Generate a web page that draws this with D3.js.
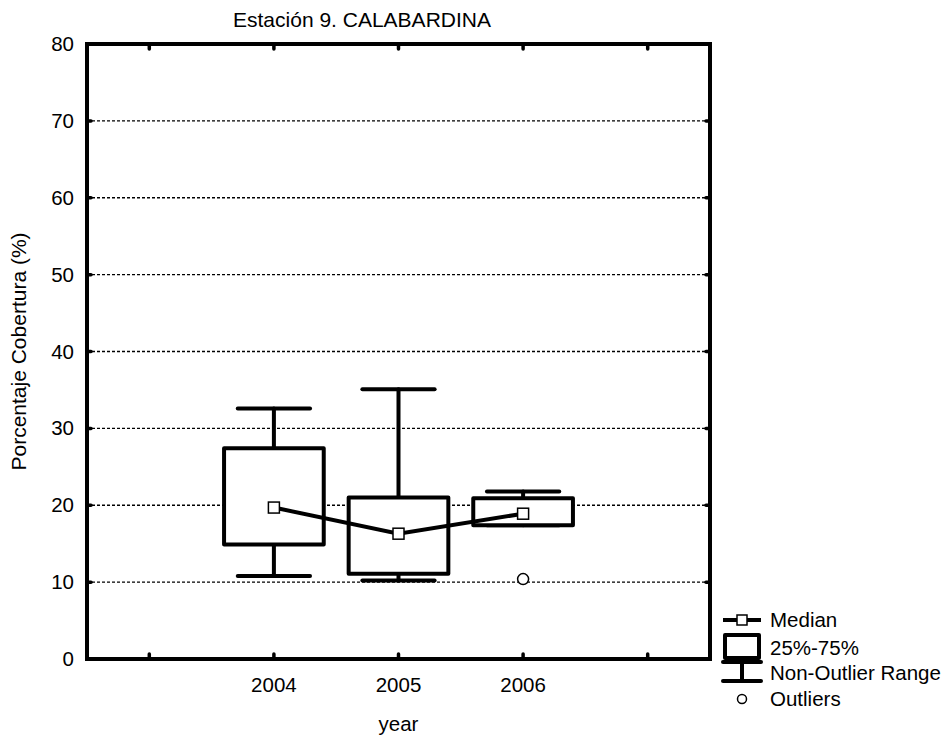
<head>
    <meta charset="utf-8">
    <style> body { margin: 0; background: #fff; } text { font-family: Arial, "Liberation Sans", sans-serif; fill: #000; } </style>
    <script src="https://d3js.org/d3.v7.min.js"></script>
</head>
<body>
    <div id="chart"></div>
    <script>
        // data
        const years = ["2004", "2005", "2006"];
        const medians = [19.7, 16.3, 18.9];
        const q1 = [14.9, 11.1, 17.4];
        const q3 = [27.4, 21.0, 20.9];
        const whiskLo = [10.8, 10.2, 17.4];
        const whiskHi = [32.6, 35.1, 21.8];
        const outlierYears = ["2006"];
        const outlierValues = [10.4];
        const yTicks = [0, 10, 20, 30, 40, 50, 60, 70, 80];
        const legendLabels = ["Median", "25%-75%", "Non-Outlier Range", "Outliers"];

        const width = 947, height = 740;
        const pLeft = 87, pRight = 710, pTop = 44, pBottom = 659;
        const fs = 20.5;

        const svg = d3.select("#chart")
            .append("svg")
            .attr("width", width)
            .attr("height", height);

        // two empty slots either side of the years
        const slots = ["a"].concat(years, ["b"]);
        const x = d3.scalePoint().domain(slots).range([pLeft, pRight]).padding(0.5);
        const y = d3.scaleLinear().domain([0, 80]).range([pBottom, pTop]);
        const step = x.step();
        const boxW = step * 0.8, capW = step * 0.58;

        // dotted gridlines
        svg.append("g")
            .selectAll("line")
            .data(yTicks.filter(d => d > 0 && d < 80))
            .join("line")
            .attr("x1", pLeft).attr("x2", pRight)
            .attr("y1", d => y(d)).attr("y2", d => y(d))
            .attr("stroke", "#000")
            .attr("stroke-width", 1.3)
            .attr("stroke-dasharray", "3,2");

        const rows = years.map((d, i) => ({
            year: d, med: medians[i], lo: q1[i], hi: q3[i], wl: whiskLo[i], wh: whiskHi[i]
        }));

        // whiskers
        const wg = svg.append("g").attr("stroke", "#000").attr("stroke-width", 4).attr("stroke-linecap", "round");
        rows.forEach(r => {
            const cx = x(r.year);
            wg.append("line").attr("x1", cx).attr("x2", cx).attr("y1", y(r.wl)).attr("y2", y(r.wh));
            wg.append("line").attr("x1", cx - capW / 2).attr("x2", cx + capW / 2).attr("y1", y(r.wh)).attr("y2", y(r.wh));
            wg.append("line").attr("x1", cx - capW / 2).attr("x2", cx + capW / 2).attr("y1", y(r.wl)).attr("y2", y(r.wl));
        });

        // boxes
        svg.append("g")
            .selectAll("rect")
            .data(rows)
            .join("rect")
            .attr("x", d => x(d.year) - boxW / 2)
            .attr("width", boxW)
            .attr("y", d => y(d.hi))
            .attr("height", d => y(d.lo) - y(d.hi))
            .attr("fill", "#fff")
            .attr("stroke", "#000")
            .attr("stroke-width", 4)
            .attr("stroke-linejoin", "round");

        // median line + markers
        svg.append("path")
            .datum(rows)
            .attr("fill", "none")
            .attr("stroke", "#000")
            .attr("stroke-width", 4)
            .attr("d", d3.line().x(d => x(d.year)).y(d => y(d.med)));

        svg.append("g")
            .selectAll("rect")
            .data(rows)
            .join("rect")
            .attr("x", d => x(d.year) - 5.5)
            .attr("y", d => y(d.med) - 5.5)
            .attr("width", 11).attr("height", 11)
            .attr("fill", "#fff")
            .attr("stroke", "#000")
            .attr("stroke-width", 1.5);

        // outliers
        svg.append("g")
            .selectAll("circle")
            .data(outlierValues)
            .join("circle")
            .attr("cx", (d, i) => x(outlierYears[i]))
            .attr("cy", d => y(d))
            .attr("r", 5.5)
            .attr("fill", "#fff")
            .attr("stroke", "#000")
            .attr("stroke-width", 1.5);

        // frame
        svg.append("rect")
            .attr("x", pLeft).attr("y", pTop)
            .attr("width", pRight - pLeft).attr("height", pBottom - pTop)
            .attr("fill", "none")
            .attr("stroke", "#000")
            .attr("stroke-width", 4);

        // inward tick marks
        const tg = svg.append("g").attr("stroke", "#000").attr("stroke-width", 3.5).attr("stroke-linecap", "round");
        yTicks.filter(d => d > 0 && d < 80).forEach(d => {
            tg.append("line").attr("x1", pLeft).attr("x2", pLeft + 4).attr("y1", y(d)).attr("y2", y(d));
            tg.append("line").attr("x1", pRight).attr("x2", pRight - 4).attr("y1", y(d)).attr("y2", y(d));
        });
        slots.forEach(d => {
            tg.append("line").attr("x1", x(d)).attr("x2", x(d)).attr("y1", pTop).attr("y2", pTop + 5);
            tg.append("line").attr("x1", x(d)).attr("x2", x(d)).attr("y1", pBottom).attr("y2", pBottom - 5);
        });

        // axis labels
        svg.append("g")
            .selectAll("text")
            .data(yTicks)
            .join("text")
            .attr("x", 74)
            .attr("y", d => y(d) + 7)
            .attr("text-anchor", "end")
            .attr("font-size", fs)
            .text(d => d);

        svg.append("g")
            .selectAll("text")
            .data(years)
            .join("text")
            .attr("x", d => x(d))
            .attr("y", 692)
            .attr("text-anchor", "middle")
            .attr("font-size", fs)
            .text(d => d);

        svg.append("text")
            .attr("x", (pLeft + pRight) / 2)
            .attr("y", 731)
            .attr("text-anchor", "middle")
            .attr("font-size", fs)
            .text("year");

        svg.append("text")
            .attr("transform", "translate(26," + ((pTop + pBottom) / 2) + ") rotate(-90)")
            .attr("text-anchor", "middle")
            .attr("font-size", 21)
            .text("Porcentaje Cobertura (%)");

        svg.append("text")
            .attr("x", 362)
            .attr("y", 27)
            .attr("text-anchor", "middle")
            .attr("font-size", 21)
            .text("Estación 9. CALABARDINA");

        // legend
        const lg = svg.append("g");
        const lx = 723, lw = 38, lc = lx + lw / 2;
        lg.append("line").attr("x1", lx).attr("x2", lx + lw).attr("y1", 620).attr("y2", 620)
            .attr("stroke", "#000").attr("stroke-width", 4);
        lg.append("rect").attr("x", lc - 5).attr("y", 615).attr("width", 10).attr("height", 10)
            .attr("fill", "#fff").attr("stroke", "#000").attr("stroke-width", 1.5);
        lg.append("rect").attr("x", lx + 2).attr("y", 635).attr("width", lw - 4).attr("height", 23)
            .attr("fill", "#fff").attr("stroke", "#000").attr("stroke-width", 4).attr("stroke-linejoin", "round");
        lg.append("line").attr("x1", lx).attr("x2", lx + lw).attr("y1", 662).attr("y2", 662)
            .attr("stroke", "#000").attr("stroke-width", 4).attr("stroke-linecap", "round");
        lg.append("line").attr("x1", lc).attr("x2", lc).attr("y1", 662).attr("y2", 681)
            .attr("stroke", "#000").attr("stroke-width", 4);
        lg.append("line").attr("x1", lx).attr("x2", lx + lw).attr("y1", 681).attr("y2", 681)
            .attr("stroke", "#000").attr("stroke-width", 4).attr("stroke-linecap", "round");
        lg.append("circle").attr("cx", lc).attr("cy", 699).attr("r", 4.5)
            .attr("fill", "#fff").attr("stroke", "#000").attr("stroke-width", 1.5);

        lg.selectAll("text")
            .data(legendLabels)
            .join("text")
            .attr("x", 770)
            .attr("y", (d, i) => [620, 648, 673, 699][i] + 7)
            .attr("font-size", fs)
            .text(d => d);
    </script>
</body>
